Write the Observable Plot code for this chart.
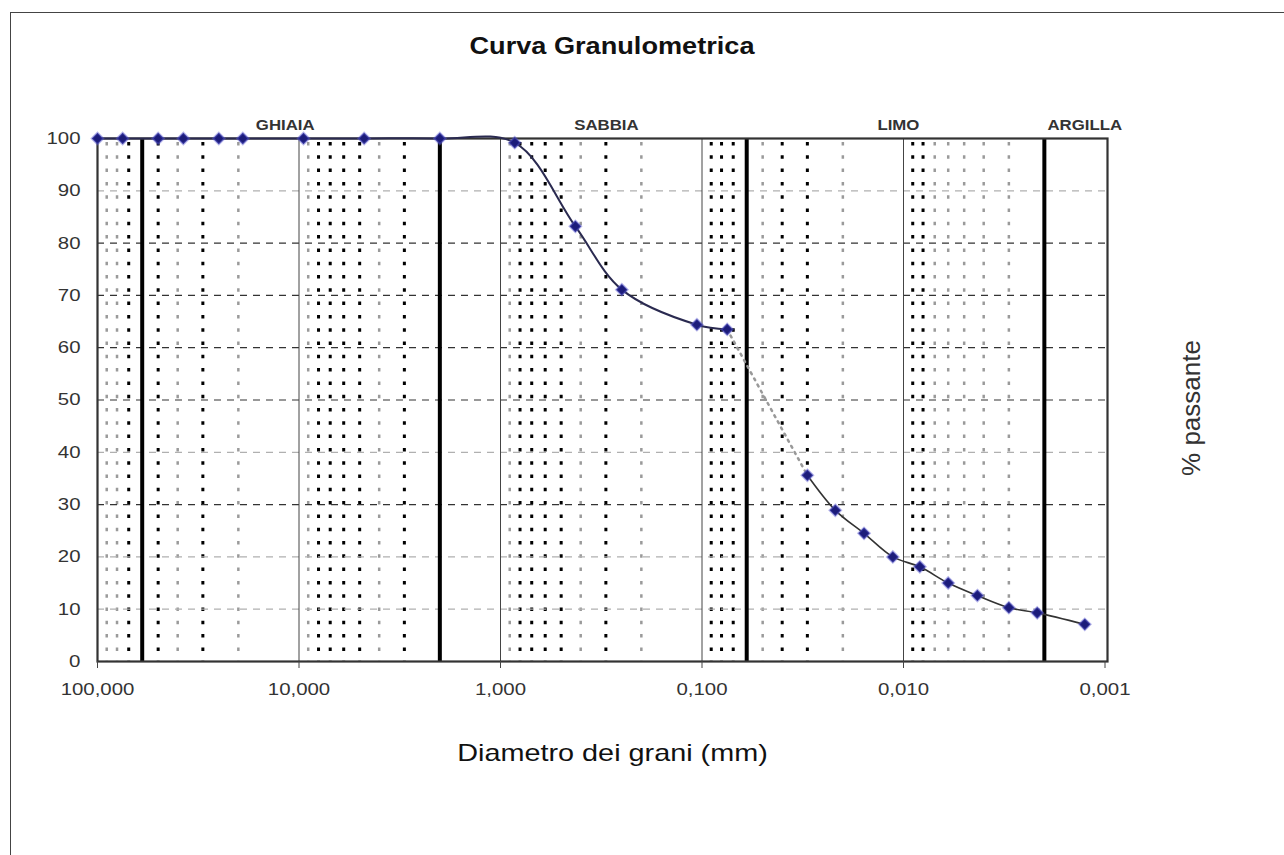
<!DOCTYPE html>
<html>
<head>
<meta charset="utf-8">
<script src="https://cdn.jsdelivr.net/npm/d3@7"></script>
<script src="https://cdn.jsdelivr.net/npm/@observablehq/plot@0.6"></script>
<style>
  html, body { margin: 0; padding: 0; background: #fff; }
  #root { position: relative; width: 1284px; height: 855px; overflow: hidden; font-family: "Liberation Sans", Arial, sans-serif; background: #fff; }
  #title { position: relative; height: 90px; }
  #title span { position: absolute; left: 612px; top: 32px; transform: translateX(-50%) scaleX(1.18); white-space: nowrap; font-weight: bold; font-size: 23px; line-height: 28px; color: #111; }
  #chart { position: relative; }
  #border { position: absolute; z-index: 5; pointer-events: none; left: 10px; top: 12px; width: 1300px; height: 900px; border-left: 1px solid #444; border-top: 1px solid #444; }
</style>
</head>
<body>
<div id="root">
  <div id="title"><span>Curva Granulometrica</span></div>
  <div id="chart"></div>
  <div id="border"></div>
</div>
<script>
// Sieve analysis (diameter in mm, % passing)
const sieveD = [100, 75, 50, 37.5, 25, 19, 9.5, 4.75, 2, 0.85, 0.425, 0.25, 0.106, 0.075];
const sieveP = [100, 100, 100, 100, 100, 100, 100, 100, 100, 99.2, 83.2, 71.1, 64.4, 63.5];
// Sedimentation (hydrometer) analysis
const hydroD = [0.030, 0.0218, 0.0157, 0.0113, 0.0083, 0.0060, 0.0043, 0.0030, 0.00217, 0.00126];
const hydroP = [35.6, 28.9, 24.5, 20.0, 18.1, 15.0, 12.6, 10.3, 9.3, 7.1];

const xTicks = [100, 10, 1, 0.1, 0.01, 0.001];
const yTicks = [0, 10, 20, 30, 40, 50, 60, 70, 80, 90, 100];

// class boundaries (mm) and decade lines
const boundaries = [60, 2, 0.06, 0.002];
const decadeLines = [10, 1, 0.1, 0.01];
// secondary dotted gridlines
const dottedDark = [70, 50, 30, 8, 7, 6, 5, 3, 0.8, 0.7, 0.6, 0.5, 0.3, 0.09, 0.08, 0.07, 0.04, 0.03, 0.009, 0.008];
const dottedLight = [90, 80, 40, 20, 9, 4, 0.9, 0.4, 0.2, 0.05, 0.02, 0.007, 0.006, 0.005, 0.004, 0.003];
// horizontal dashed gridlines
const gridDark = [80, 70, 60, 50, 30];
const gridLight = [90, 40, 20, 10];

// soil classes
const groupNames = ["GHIAIA", "SABBIA", "LIMO", "ARGILLA"];
const groupCenters = [11.7, 0.298, 0.0106, 0.00126];

const sieve = sieveD.map((d, i) => ({d, p: sieveP[i]}));
const hydro = hydroD.map((d, i) => ({d, p: hydroP[i]}));
const connector = [sieve[sieve.length - 1], hydro[0]];
const groups = groupNames.map((name, i) => ({name, d: groupCenters[i]}));

const fmt = d => d.toFixed(3).replace(".", ",");

const chart = Plot.plot({
  width: 1284,
  height: 765,
  marginLeft: 97,
  marginRight: 177,
  marginTop: 48,
  marginBottom: 194,
  style: {fontFamily: "'Liberation Sans', Arial, sans-serif", fontSize: "17px", color: "#333", background: "transparent", overflow: "visible"},
  x: {type: "log", domain: [100, 0.000972]},
  y: {domain: [0, 100]},
  marks: [
    Plot.ruleX(dottedLight, {stroke: "#9a9a9a", strokeWidth: 2.5, strokeDasharray: "3.5,9.8", strokeDashoffset: -4}),
    Plot.ruleX(dottedDark, {stroke: "#000", strokeWidth: 3, strokeDasharray: "3.5,9.8", strokeDashoffset: -4}),
    Plot.ruleY(gridLight, {stroke: "#b0b0b0", strokeWidth: 1.2, strokeDasharray: "7,6"}),
    Plot.ruleY(gridDark, {stroke: "#333", strokeWidth: 1.2, strokeDasharray: "7,6"}),
    Plot.ruleX(decadeLines, {stroke: "#444", strokeWidth: 1}),
    Plot.ruleX(boundaries, {stroke: "#000", strokeWidth: 4}),
    Plot.frame({stroke: "#333", strokeWidth: 2.2}),
    Plot.line(connector, {x: "d", y: "p", stroke: "#999", strokeWidth: 2.5, strokeDasharray: "2,5"}),
    Plot.line(sieve, {x: "d", y: "p", stroke: "#2a2a50", strokeWidth: 2, curve: "catmull-rom"}),
    Plot.line(hydro, {x: "d", y: "p", stroke: "#333", strokeWidth: 1.6, curve: "catmull-rom"}),
    Plot.dot(sieve, {x: "d", y: "p", symbol: "diamond2", r: 5.2, fill: "#1c1c7a", stroke: "#5a5ad0", strokeOpacity: 0.45, strokeWidth: 2}),
    Plot.dot(hydro, {x: "d", y: "p", symbol: "diamond2", r: 5.2, fill: "#1c1c7a", stroke: "#5a5ad0", strokeOpacity: 0.45, strokeWidth: 2}),
    Plot.text(groups, {x: "d", y: 100, text: "name", dy: -13, fontWeight: "bold", fontSize: 14, fill: "#333"}),
    Plot.axisX({ticks: xTicks, tickFormat: fmt, tickSize: 7, tickPadding: 14, label: null, fontSize: 17, stroke: "#444"}),
    Plot.axisY({ticks: yTicks, tickSize: 0, tickPadding: 17, label: null, fontSize: 17}),
    Plot.text(["Diametro dei grani (mm)"], {frameAnchor: "bottom", dy: 99, dx: 10, fontSize: 24, fill: "#111"}),
    Plot.text(["% passante"], {frameAnchor: "right", textAnchor: "middle", dx: 84, dy: 8, rotate: -90, fontSize: 26, fill: "#333"})
  ]
});
document.getElementById("chart").appendChild(chart);

// the reference scan is stretched horizontally: widen the glyphs of horizontal labels
chart.querySelectorAll("text").forEach(t => {
  const tr = (t.getAttribute("transform") || "") + (t.parentNode.getAttribute("transform") || "");
  if (tr.includes("rotate")) return;
  const w = t.getComputedTextLength();
  if (w > 0) {
    t.setAttribute("textLength", (w * 1.2).toFixed(1));
    t.setAttribute("lengthAdjust", "spacingAndGlyphs");
  }
});
</script>
</body>
</html>
